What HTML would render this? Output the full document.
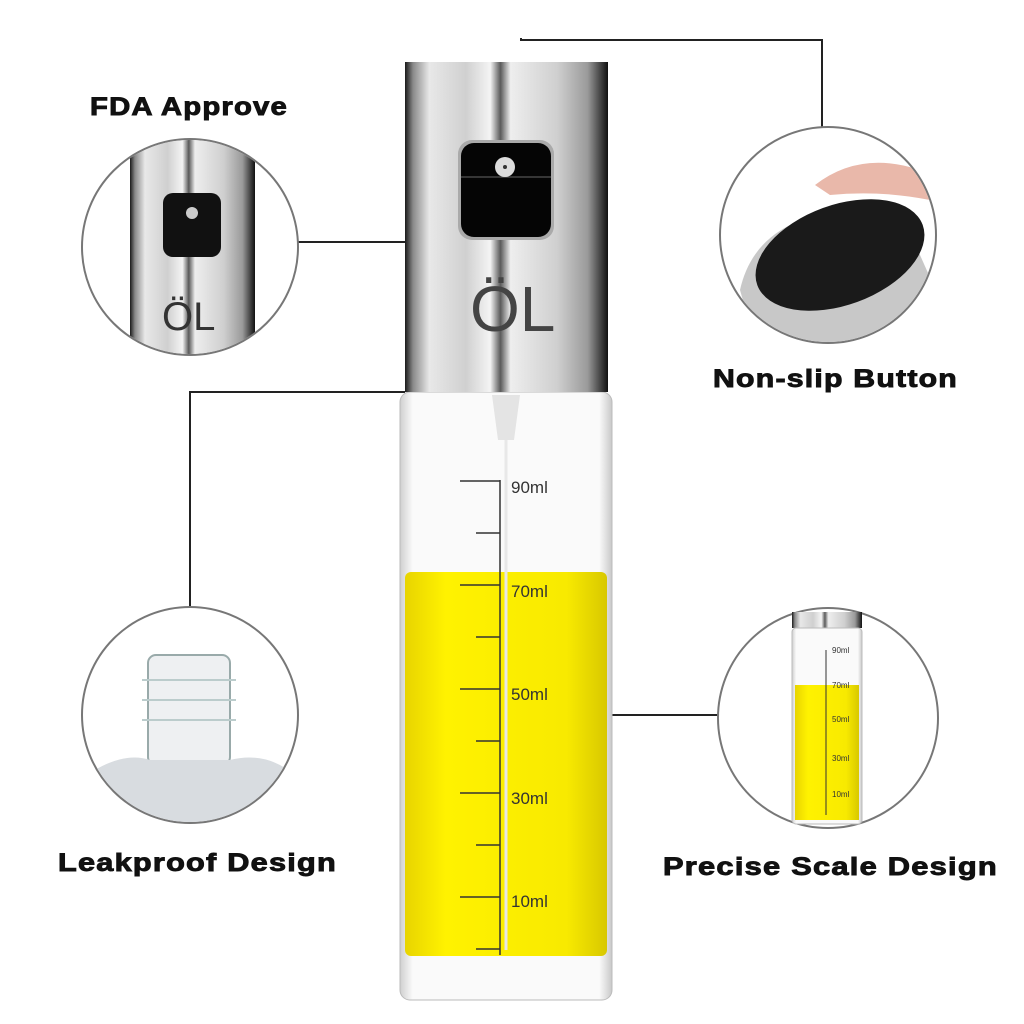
<!DOCTYPE html>
<html><head><meta charset="utf-8"><style>
html,body{margin:0;padding:0;background:#fff;width:1024px;height:1024px;overflow:hidden}
text{font-family:"Liberation Sans",sans-serif}
.lbl{font-weight:bold;font-size:25px;letter-spacing:1px;fill:#111;stroke:#111;stroke-width:0.9}
.sc{font-size:17px;fill:#333}
</style></head><body>
<svg width="1024" height="1024" viewBox="0 0 1024 1024" xmlns="http://www.w3.org/2000/svg">
<defs>
<linearGradient id="steel" x1="0" x2="1" y1="0" y2="0">
<stop offset="0" stop-color="#1a1a1a"/><stop offset="0.04" stop-color="#8a8a8a"/>
<stop offset="0.12" stop-color="#e8e8e8"/><stop offset="0.3" stop-color="#d0d0d0"/>
<stop offset="0.42" stop-color="#f4f4f4"/><stop offset="0.47" stop-color="#5a5a5a"/>
<stop offset="0.52" stop-color="#eeeeee"/><stop offset="0.75" stop-color="#cfcfcf"/>
<stop offset="0.9" stop-color="#9a9a9a"/><stop offset="0.97" stop-color="#3a3a3a"/>
<stop offset="1" stop-color="#111"/></linearGradient>
<linearGradient id="oil" x1="0" x2="1"><stop offset="0" stop-color="#e8d400"/><stop offset="0.2" stop-color="#fff200"/><stop offset="0.8" stop-color="#f8ea00"/><stop offset="1" stop-color="#d8c800"/></linearGradient>
<linearGradient id="glass" x1="0" x2="1"><stop offset="0" stop-color="#cfcfcf"/><stop offset="0.06" stop-color="#fafafa"/><stop offset="0.94" stop-color="#fafafa"/><stop offset="1" stop-color="#c8c8c8"/></linearGradient>
</defs>
<g fill="none" stroke="#222" stroke-width="2">
<path d="M298 242H405"/>
<path d="M521 38V40H822V128"/>
<path d="M190 607V392H405"/>
<path d="M612 715H718"/>
</g>
<g fill="#fff" stroke="#777" stroke-width="2">
<circle cx="190" cy="247" r="108"/><circle cx="828" cy="235" r="108"/>
<circle cx="190" cy="715" r="108"/><circle cx="828" cy="718" r="110"/>
</g>
<rect x="400" y="392" width="212" height="608" rx="10" fill="url(#glass)" stroke="#bbb"/>
<rect x="405" y="572" width="202" height="384" rx="6" fill="url(#oil)"/>
<path d="M492 395 L520 395 L514 440 L498 440 Z" fill="#e4e4e4"/>
<line x1="506" y1="440" x2="506" y2="950" stroke="#e8e8e8" stroke-width="3"/>
<g stroke="#333" stroke-width="1.5">
<line x1="500" y1="480" x2="500" y2="955"/>
<line x1="460" y1="481" x2="500" y2="481"/>
<line x1="476" y1="533" x2="500" y2="533"/>
<line x1="460" y1="585" x2="500" y2="585"/>
<line x1="476" y1="637" x2="500" y2="637"/>
<line x1="460" y1="689" x2="500" y2="689"/>
<line x1="476" y1="741" x2="500" y2="741"/>
<line x1="460" y1="793" x2="500" y2="793"/>
<line x1="476" y1="845" x2="500" y2="845"/>
<line x1="460" y1="897" x2="500" y2="897"/>
<line x1="476" y1="949" x2="500" y2="949"/>
</g>
<text class="sc" x="511" y="493">90ml</text>
<text class="sc" x="511" y="597">70ml</text>
<text class="sc" x="511" y="700">50ml</text>
<text class="sc" x="511" y="804">30ml</text>
<text class="sc" x="511" y="907">10ml</text>
<rect x="405" y="62" width="203" height="330" fill="url(#steel)"/>
<rect x="458" y="140" width="96" height="100" rx="14" fill="#aaa"/>
<rect x="461" y="143" width="90" height="94" rx="13" fill="#050505"/>
<line x1="461" y1="177" x2="551" y2="177" stroke="#666"/>
<circle cx="505" cy="167" r="10" fill="#ddd"/><circle cx="505" cy="167" r="2" fill="#333"/>
<text x="470" y="331" font-size="64" fill="#444">ÖL</text>
<clipPath id="c1"><circle cx="190" cy="247" r="107"/></clipPath>
<g clip-path="url(#c1)">
<rect x="130" y="130" width="125" height="240" fill="url(#steel)"/>
<rect x="163" y="193" width="58" height="64" rx="10" fill="#111"/>
<circle cx="192" cy="213" r="6" fill="#ccc"/>
<text x="162" y="330" font-size="40" fill="#333">ÖL</text>
</g>
<clipPath id="c2"><circle cx="828" cy="235" r="107"/></clipPath>
<g clip-path="url(#c2)">
<path d="M740 290 Q760 200 900 210 L940 300 L940 360 L760 360 Z" fill="#c8c8c8"/>
<ellipse cx="840" cy="255" rx="88" ry="50" transform="rotate(-20 840 255)" fill="#1a1a1a"/>
<path d="M815 185 Q860 150 920 170 L930 200 Q880 190 830 195 Z" fill="#e9b8aa"/>
</g>
<clipPath id="c3"><circle cx="190" cy="715" r="107"/></clipPath>
<g clip-path="url(#c3)">
<rect x="148" y="655" width="82" height="110" rx="8" fill="#eef0f2" stroke="#9aa" stroke-width="2"/>
<g stroke="#bcc" stroke-width="2"><line x1="142" y1="680" x2="236" y2="680"/><line x1="142" y1="700" x2="236" y2="700"/><line x1="142" y1="720" x2="236" y2="720"/></g>
<path d="M80 780 Q120 750 150 760 L230 760 Q270 750 300 780 L300 830 L80 830 Z" fill="#d8dce0"/>
</g>
<rect x="792" y="612" width="70" height="16" fill="url(#steel)"/>
<rect x="792" y="628" width="70" height="196" rx="4" fill="url(#glass)" stroke="#bbb"/>
<rect x="795" y="685" width="64" height="135" fill="url(#oil)"/>
<g stroke="#333"><line x1="826" y1="650" x2="826" y2="815"/></g>
<g fill="#333"><text x="832" y="653" font-size="8">90ml</text><text x="832" y="688" font-size="8">70ml</text><text x="832" y="722" font-size="8">50ml</text><text x="832" y="761" font-size="8">30ml</text><text x="832" y="797" font-size="8">10ml</text></g>
<text class="lbl" x="90" y="115" textLength="198" lengthAdjust="spacingAndGlyphs">FDA Approve</text>
<text class="lbl" x="713" y="387" textLength="245" lengthAdjust="spacingAndGlyphs">Non-slip Button</text>
<text class="lbl" x="58" y="871" textLength="279" lengthAdjust="spacingAndGlyphs">Leakproof Design</text>
<text class="lbl" x="663" y="875" textLength="335" lengthAdjust="spacingAndGlyphs">Precise Scale Design</text>
</svg>
</body></html>
